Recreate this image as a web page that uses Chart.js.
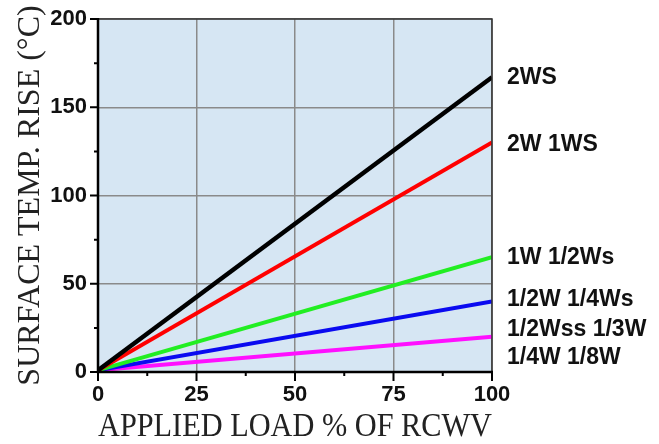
<!DOCTYPE html>
<html>
<head>
<meta charset="utf-8">
<script src="https://cdn.jsdelivr.net/npm/chart.js@4.4.0/dist/chart.umd.min.js"></script>
<style>
  html, body { margin: 0; padding: 0; background: #fff; }
  #wrap { width: 659px; height: 444px; }
</style>
</head>
<body>
<div id="wrap"><canvas id="riseChart"></canvas></div>
<script>
// data
const loadPercent = [0, 100];
const rise2WS = [1, 167];
const rise2W1WS = [1, 130];
const rise1W = [1, 65];
const riseHalfW = [1, 40];
const riseQuarterW = [1, 20];

const xTicks = [0, 25, 50, 75, 100];
const xMinor = [12.5, 37.5, 62.5, 87.5];
const yTicks = [0, 50, 100, 150, 200];
const yMinor = [25, 75, 125, 175];

// labels at the right edge and the value each one sits at
const rightLabels = ["2WS", "2W 1WS", "1W 1/2Ws", "1/2W 1/4Ws", "1/2Wss 1/3W", "1/4W 1/8W"];
const rightLabelAt = [167, 129, 65, 41, 24, 8];

const toPoints = (vals) => loadPercent.map((p, i) => ({ x: p, y: vals[i] }));

const labelFont = { family: "'Liberation Sans', Arial, sans-serif", size: 22, weight: "bold" };
const titleFont = { family: "'Liberation Serif', 'Times New Roman', serif", size: 32, lineHeight: 1 };

// plot background, frame and tick marks (major + minor)
const frameAndTicks = {
    id: "frameAndTicks",
    beforeDraw(chart) {
        const { ctx, chartArea: a } = chart;
        ctx.save();
        ctx.fillStyle = "#d6e6f3";
        ctx.fillRect(a.left, a.top, a.right - a.left, a.bottom - a.top);
        ctx.restore();
    },
    afterDatasetsDraw(chart) {
        const { ctx, chartArea: a, scales } = chart;
        const x = scales.x;
        const y = scales.y;
        ctx.save();
        ctx.strokeStyle = "#333";
        ctx.lineWidth = 1.5;
        ctx.beginPath();
        ctx.moveTo(a.left, a.top);
        ctx.lineTo(a.right, a.top);
        ctx.lineTo(a.right, a.bottom);
        ctx.stroke();

        ctx.strokeStyle = "#000";
        ctx.lineWidth = 2.5;
        ctx.beginPath();
        ctx.moveTo(a.left, a.top - 1);
        ctx.lineTo(a.left, a.bottom);
        ctx.lineTo(a.right + 1, a.bottom);
        ctx.stroke();

        ctx.lineWidth = 2;
        ctx.beginPath();
        xTicks.forEach((v) => {
            const px = x.getPixelForValue(v);
            ctx.moveTo(px, a.bottom);
            ctx.lineTo(px, a.bottom + 9);
        });
        xMinor.forEach((v) => {
            const px = x.getPixelForValue(v);
            ctx.moveTo(px, a.bottom);
            ctx.lineTo(px, a.bottom + 4);
        });
        yTicks.forEach((v) => {
            const py = y.getPixelForValue(v);
            ctx.moveTo(a.left, py);
            ctx.lineTo(a.left - 8, py);
        });
        yMinor.forEach((v) => {
            const py = y.getPixelForValue(v);
            ctx.moveTo(a.left, py);
            ctx.lineTo(a.left - 4, py);
        });
        ctx.stroke();
        ctx.restore();
    },
};

const ctx = document.getElementById("riseChart");

new Chart(ctx, {
    type: "line",
    data: {
        datasets: [
            { label: "2WS", data: toPoints(rise2WS), borderColor: "#000000", borderWidth: 4.5 },
            { label: "2W 1WS", data: toPoints(rise2W1WS), borderColor: "#ff0000", borderWidth: 4 },
            { label: "1W 1/2Ws", data: toPoints(rise1W), borderColor: "#22ee22", borderWidth: 4 },
            { label: "1/2W 1/4Ws", data: toPoints(riseHalfW), borderColor: "#0a0af0", borderWidth: 4 },
            { label: "1/4W 1/8W", data: toPoints(riseQuarterW), borderColor: "#ff10ff", borderWidth: 4 },
        ],
    },
    options: {
        responsive: true,
        maintainAspectRatio: false,
        animation: false,
        elements: { point: { radius: 0 }, line: { tension: 0 } },
        layout: { padding: { top: 19, right: 0, bottom: 0, left: 0 } },
        plugins: { legend: { display: false }, tooltip: { enabled: false } },
        scales: {
            x: {
                type: "linear",
                min: 0,
                max: 100,
                afterBuildTicks: (s) => { s.ticks = xTicks.map((v) => ({ value: v })); },
                afterFit: (s) => { s.height = 72; },
                grid: { color: "#8a8a8a", lineWidth: 1.5, drawTicks: false },
                border: { display: false },
                ticks: { padding: 10, color: "#111", font: labelFont, maxRotation: 0 },
                title: {
                    display: true,
                    text: "APPLIED LOAD % OF RCWV",
                    color: "#222",
                    font: { ...titleFont, size: 33 },
                    padding: { top: 0, bottom: 0 },
                },
            },
            y: {
                min: 0,
                max: 200,
                afterBuildTicks: (s) => { s.ticks = yTicks.map((v) => ({ value: v })); },
                afterFit: (s) => { s.width = 98; s.paddingTop = 0; s.paddingBottom = 0; },
                grid: { color: "#8a8a8a", lineWidth: 1.5, drawTicks: false },
                border: { display: false },
                ticks: { padding: 11, color: "#111", font: labelFont },
                title: {
                    display: true,
                    text: "SURFACE TEMP. RISE (°C)",
                    color: "#222",
                    font: titleFont,
                    padding: { top: 15, bottom: 0 },
                },
            },
            y2: {
                position: "right",
                min: 0,
                max: 200,
                afterBuildTicks: (s) => { s.ticks = rightLabelAt.map((v) => ({ value: v })); },
                afterFit: (s) => { s.width = 167; s.paddingTop = 0; s.paddingBottom = 0; },
                grid: { display: false, drawTicks: false },
                border: { display: false },
                ticks: {
                    padding: 15,
                    color: "#111",
                    autoSkip: false,
                    font: { ...labelFont, size: 23 },
                    callback: (value, index) => rightLabels[index],
                },
            },
        },
    },
    plugins: [frameAndTicks],
});
</script>
</body>
</html>
